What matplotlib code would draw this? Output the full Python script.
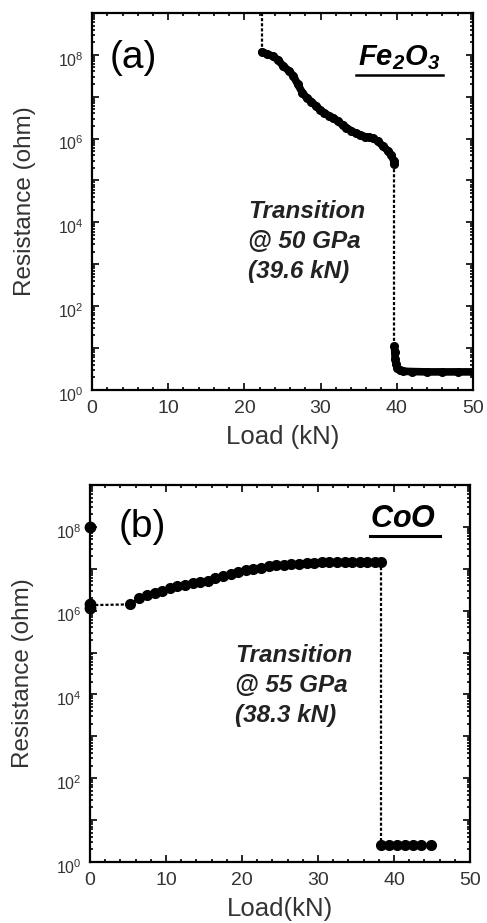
import numpy as np
import matplotlib
matplotlib.use("Agg")
import matplotlib.pyplot as plt
import matplotlib.transforms as mtransforms
from matplotlib.ticker import MultipleLocator, LogLocator, FuncFormatter, NullFormatter

plt.rcParams['font.family'] = ['Liberation Sans', 'DejaVu Sans']
plt.rcParams['mathtext.fontset'] = 'custom'
plt.rcParams['mathtext.rm'] = 'Liberation Sans'
plt.rcParams['mathtext.it'] = 'Liberation Sans:italic'
plt.rcParams['mathtext.bf'] = 'Liberation Sans:bold'
plt.rcParams['mathtext.bfit'] = 'Liberation Sans:italic:bold'

# --- (a) Fe2O3 ---
fe_jump_x = [22.3, 22.3]
fe_jump_r = [1e9, 1.17e8]
fe_load = [22.3, 23.0, 23.7, 24.4, 25.1, 25.8, 26.4, 27.0, 27.6, 28.2, 28.8,
           29.4, 29.9, 30.5, 31.1, 31.7, 32.3, 32.9, 33.4, 34.0, 34.6, 35.2,
           35.8, 36.4, 36.9, 37.5, 38.2, 38.8, 39.3, 39.6, 39.7]
fe_res = [1.17e8, 1.05e8, 9.3e7, 7.6e7, 5.4e7, 4.2e7, 3.2e7, 2.0e7, 1.26e7,
          9.3e6, 7.6e6, 6.0e6, 4.9e6, 4.1e6, 3.5e6, 3.1e6, 2.6e6, 2.1e6,
          1.8e6, 1.55e6, 1.35e6, 1.23e6, 1.12e6, 1.07e6, 1.02e6, 8.7e5,
          6.6e5, 5.2e5, 4.0e5, 3.0e5, 2.5e5]
fe_drop_x = [39.7, 39.7]
fe_drop_r = [2.5e5, 11]
fe_low_load = [39.7, 39.75, 39.8, 39.9, 40.1, 40.4, 40.8, 42.0, 44.0, 46.0, 48.0, 50.0]
fe_low_res = [11, 8, 5.5, 4.2, 3.4, 3.0, 2.8, 2.75, 2.7, 2.7, 2.7, 2.7]

# --- (b) CoO ---
co_zero_r = [1e8, 1.45e6, 1.15e6]
co_flat_x = [0.0, 5.3]
co_flat_r = [1.35e6, 1.41e6]
co_load = [5.3, 6.5, 7.5, 8.5, 9.5, 10.5, 11.5, 12.5, 13.5, 14.5, 15.5, 16.5,
           17.5, 18.5, 19.5, 20.5, 21.5, 22.5, 23.5, 24.5, 25.5, 26.5, 27.5,
           28.5, 29.5, 30.5, 31.5, 32.5, 33.5, 34.5, 35.5, 36.5, 37.5, 38.3]
co_res = [1.41e6, 2.0e6, 2.4e6, 2.7e6, 3.0e6, 3.4e6, 3.8e6, 4.2e6, 4.6e6,
          4.9e6, 5.2e6, 5.9e6, 6.6e6, 7.6e6, 8.5e6, 9.3e6, 1.0e7, 1.07e7,
          1.15e7, 1.2e7, 1.26e7, 1.29e7, 1.32e7, 1.35e7, 1.38e7, 1.41e7,
          1.41e7, 1.45e7, 1.45e7, 1.48e7, 1.48e7, 1.48e7, 1.48e7, 1.45e7]
co_drop_x = [38.3, 38.3]
co_drop_r = [1.45e7, 2.6]
co_low_load = [38.3, 39.3, 40.4, 41.4, 42.5, 43.6, 44.9]
co_low_res = [2.6, 2.6, 2.6, 2.6, 2.6, 2.6, 2.6]

dash = dict(color='black', lw=1.6, ls=(0, (1.4, 0.9)))


def y_label(v, pos):
    e = int(round(np.log10(v)))
    if e % 2 == 0 and e <= 8:
        return r'$10^{%d}$' % e
    return ''


def style_axes(ax, xlabel):
    ax.set_yscale('log')
    ax.set_xlim(0, 50)
    ax.set_ylim(1, 1e9)
    ax.xaxis.set_major_locator(MultipleLocator(10))
    ax.xaxis.set_minor_locator(MultipleLocator(2))
    ax.yaxis.set_major_locator(LogLocator(base=10, subs=(1.0,), numticks=20))
    ax.yaxis.set_minor_locator(LogLocator(base=10, subs=np.arange(2, 10), numticks=20))
    ax.yaxis.set_major_formatter(FuncFormatter(y_label))
    ax.yaxis.set_minor_formatter(NullFormatter())
    ax.tick_params(which='both', direction='in', top=True, right=True,
                   width=1.2, colors='black', labelcolor='#333333')
    ax.tick_params(which='major', length=5)
    ax.tick_params(which='minor', length=2.5)
    ax.tick_params(axis='x', labelsize=14, pad=7)
    ax.tick_params(axis='y', labelsize=11.5, pad=6)
    for s in ax.spines.values():
        s.set_linewidth(1.6)
    # y tick labels sit a little below their ticks in the original
    shift = mtransforms.ScaledTranslation(0, -4 / 100, ax.figure.dpi_scale_trans)
    for lab in ax.get_yticklabels():
        lab.set_transform(lab.get_transform() + shift)
    ax.set_ylabel('Resistance (ohm)', fontsize=17.5, color='#333333', labelpad=16)
    ax.set_xlabel(xlabel, fontsize=18.5, color='#333333', labelpad=6)


fig = plt.figure(figsize=(4.87, 9.23), dpi=100)
ax1 = fig.add_axes([0.189, 0.5775, 0.782, 0.4085])
ax2 = fig.add_axes([0.185, 0.0661, 0.780, 0.4085])

txt = dict(fontsize=17.5, fontweight='bold', fontstyle='italic', va='baseline',
           linespacing=1.38, color='#222222')

# panel (a)
ax1.plot(fe_jump_x, fe_jump_r, **dash)
ax1.plot(fe_drop_x, fe_drop_r, **dash)
ax1.plot(fe_load, fe_res, color='black', lw=5.5, solid_capstyle='round',
         marker='o', ms=5.5)
ax1.plot(fe_low_load, fe_low_res, color='black', lw=5.5, solid_capstyle='round',
         solid_joinstyle='round', marker='o', ms=5.5)
style_axes(ax1, 'Load (kN)')
ax1.text(0.047, 0.854, '(a)', transform=ax1.transAxes, fontsize=28, va='baseline')
ax1.text(0.698, 0.862, r'$\mathbfit{Fe_2O_3}$', transform=ax1.transAxes,
         fontsize=21, va='baseline')
ax1.plot([0.693, 0.921], [0.836, 0.836], transform=ax1.transAxes, color='black', lw=1.8)
ax1.text(0.409, 0.297, 'Transition\n@ 50 GPa\n(39.6 kN)', transform=ax1.transAxes, **txt)

# panel (b)
ax2.plot(co_flat_x, co_flat_r, **dash)
ax2.plot(co_drop_x, co_drop_r, **dash)
ax2.plot([0, 0, 0], co_zero_r, ls='none', marker='o', ms=7.5, color='black', clip_on=False)
ax2.plot(co_load, co_res, color='black', lw=2, marker='o', ms=7)
ax2.plot(co_low_load, co_low_res, color='black', lw=2, marker='o', ms=7)
style_axes(ax2, 'Load(kN)')
ax2.text(0.074, 0.862, '(b)', transform=ax2.transAxes, fontsize=28, va='baseline')
ax2.text(0.737, 0.889, r'$\mathbfit{CoO}$', transform=ax2.transAxes,
         fontsize=22, va='baseline')
ax2.plot([0.737, 0.921], [0.865, 0.865], transform=ax2.transAxes, color='black', lw=2.2)
ax2.text(0.382, 0.371, 'Transition\n@ 55 GPa\n(38.3 kN)', transform=ax2.transAxes, **txt)

fig.savefig('out.png', dpi=100)
